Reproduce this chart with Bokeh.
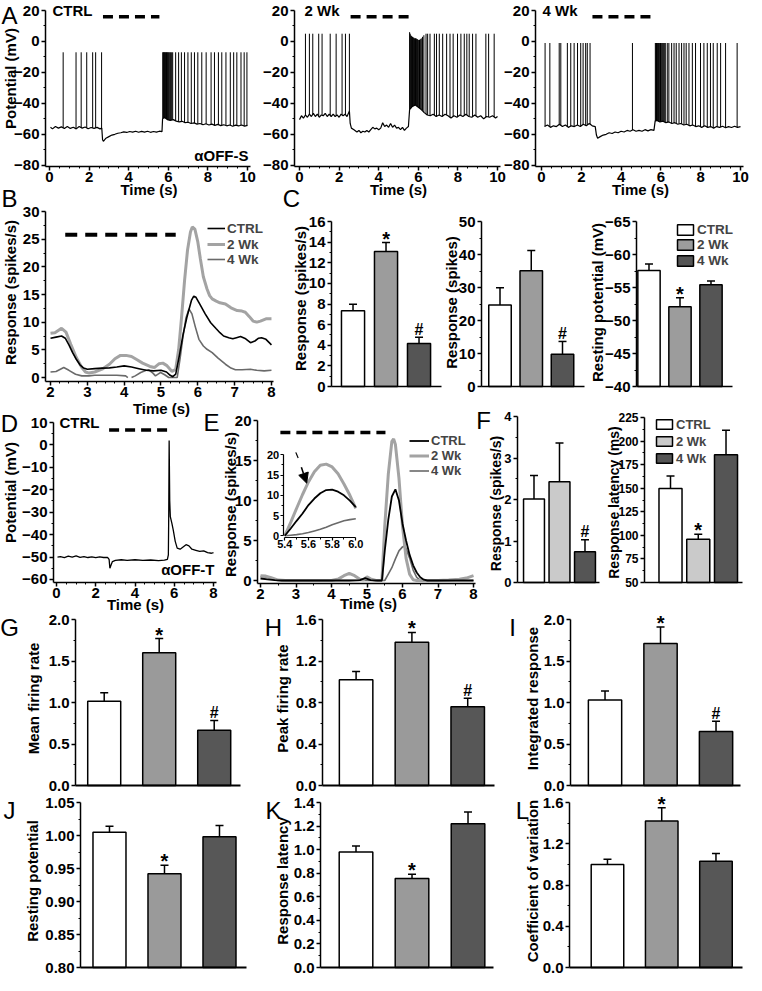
import numpy as np
from bokeh.plotting import figure
from bokeh.layouts import row, column
from bokeh.models import (Range1d, FixedTicker, Label, Legend, LegendItem, Whisker, TeeHead,
                          ColumnDataSource, LinearAxis, Arrow, NormalHead, PrintfTickFormatter)
from bokeh.core.properties import value
from bokeh.embed import file_html
from bokeh.resources import INLINE

FONT = "Liberation Sans"
NAN = float("nan")

# ============================ DATA ============================
groups = ["CTRL", "2 Wk", "4 Wk"]
bar_x = [1, 2, 3]

# ---- A: membrane potential recordings (alpha OFF-S) ----
a1_spikes = [0.69, 1.34, 1.60, 1.88, 2.18, 2.33, 2.63,
             5.72, 5.745, 5.77, 5.795, 5.82, 5.85, 5.88, 5.91, 5.94, 5.97, 6.00, 6.04, 6.08, 6.12, 6.17, 6.22,
             6.37, 6.52, 6.66, 6.82, 6.99, 7.16, 7.32, 7.49, 7.69, 7.91, 8.16, 8.33, 8.53, 8.70, 8.91,
             9.13, 9.30, 9.46, 9.67, 9.83, 9.97]
a1_peak = -7
a1_base = [(0.05, -55.5), (0.15, -56.5), (0.30, -55.0), (0.45, -56.0), (0.60, -55.2), (0.75, -56.3), (0.90, -55.0),
           (1.05, -56.2), (1.20, -55.4), (1.35, -56.5), (1.50, -55.0), (1.65, -56.0), (1.80, -55.3), (1.95, -56.4),
           (2.10, -55.6), (2.25, -56.2), (2.40, -55.5), (2.55, -56.5), (2.64, -56.0), (2.68, -63.5), (2.72, -64.5),
           (2.85, -62.5), (3.00, -61.5), (3.15, -60.5), (3.30, -60.0), (3.45, -59.3), (3.60, -59.0), (3.75, -58.4),
           (3.90, -58.8), (4.05, -58.2), (4.20, -58.6), (4.35, -58.0), (4.50, -58.7), (4.65, -58.1), (4.80, -58.6),
           (4.95, -58.0), (5.10, -58.7), (5.25, -58.2), (5.40, -58.6), (5.55, -58.0), (5.68, -58.3), (5.71, -50.0),
           (5.80, -49.0), (5.95, -50.5), (6.10, -51.0), (6.25, -50.5), (6.40, -51.5), (6.55, -52.0), (6.70, -51.6),
           (6.85, -52.5), (7.00, -52.2), (7.15, -53.0), (7.30, -52.6), (7.45, -53.4), (7.60, -53.0), (7.75, -53.8),
           (7.90, -53.2), (8.05, -54.0), (8.20, -53.4), (8.35, -54.2), (8.50, -53.6), (8.65, -54.4), (8.80, -53.8),
           (8.95, -54.5), (9.10, -54.0), (9.25, -54.8), (9.40, -54.1), (9.55, -54.6), (9.70, -54.0), (9.85, -54.7),
           (10.00, -54.2)]

a2_spikes = [0.30, 0.50, 0.67, 0.97, 1.14, 1.55, 1.85, 2.15, 2.32, 2.52,
             6.39, 6.47, 6.59, 6.81, 6.92, 7.06, 7.23, 7.43, 7.60, 7.76, 7.98, 8.15, 8.32, 8.45, 8.57,
             8.74, 8.91, 9.41, 9.55, 9.83]
a2_peak = 5
a2_burst = [5.56, 5.59, 5.62, 5.65, 5.68, 5.71, 5.74, 5.77, 5.80, 5.83, 5.86, 5.89, 5.92, 5.95, 5.98,
            6.02, 6.06, 6.10, 6.15, 6.21, 6.28]
a2_burst_peak = [6, 5, 4, 3.5, 3, 3, 2.5, 2.5, 2, 2, 2, 2, 1.5, 1.5, 1, 1, 1, 1.5, 2, 3, 4]
a2_base = [(0.00, -50.5), (0.10, -48.0), (0.20, -49.5), (0.30, -47.5), (0.40, -49.0), (0.50, -47.0), (0.60, -48.5),
           (0.70, -46.5), (0.80, -48.5), (0.90, -47.0), (1.00, -49.0), (1.10, -47.5), (1.20, -48.0), (1.30, -46.5),
           (1.40, -48.5), (1.50, -47.0), (1.60, -48.5), (1.70, -47.0), (1.80, -48.5), (1.90, -47.5), (2.00, -49.0),
           (2.10, -47.0), (2.20, -48.0), (2.30, -47.0), (2.40, -48.5), (2.52, -45.0), (2.56, -53.0), (2.62, -56.0),
           (2.75, -57.0), (2.90, -58.5), (3.00, -57.5), (3.10, -59.0), (3.20, -58.0), (3.30, -58.5), (3.40, -57.5),
           (3.50, -58.5), (3.60, -57.0), (3.70, -55.5), (3.80, -56.5), (3.90, -56.0), (4.00, -57.0), (4.10, -56.0),
           (4.20, -52.5), (4.30, -55.0), (4.40, -54.0), (4.50, -55.5), (4.60, -53.0), (4.70, -55.5), (4.80, -54.0),
           (4.90, -56.0), (5.00, -55.5), (5.10, -57.0), (5.20, -55.5), (5.30, -57.5), (5.40, -56.0), (5.50, -55.0),
           (5.56, -44.0), (5.70, -42.0), (5.85, -41.0), (6.00, -42.5), (6.15, -44.0), (6.30, -46.0), (6.45, -47.5),
           (6.60, -48.0), (6.75, -47.0), (6.90, -48.5), (7.05, -47.5), (7.20, -48.5), (7.35, -47.0), (7.50, -48.0),
           (7.65, -49.5), (7.80, -48.0), (7.95, -49.0), (8.10, -47.5), (8.25, -48.5), (8.40, -47.0), (8.55, -48.5),
           (8.70, -49.0), (8.85, -47.5), (9.00, -49.0), (9.15, -48.0), (9.30, -50.0), (9.45, -48.5), (9.60, -49.0),
           (9.75, -48.0), (9.90, -49.5), (10.00, -48.5)]

a3_spikes = [0.18, 0.42, 0.89, 0.97, 1.30, 1.47, 1.64, 1.81, 1.97, 2.09, 2.22, 2.30, 2.44, 4.57,
             5.72, 5.75, 5.78, 5.81, 5.84, 5.87, 5.90, 5.94, 5.98, 6.02, 6.07, 6.12, 6.17, 6.22,
             6.32, 6.40, 6.54, 6.66, 6.77, 6.91, 7.04, 7.16, 7.27, 7.41, 7.58, 7.74, 7.99, 8.16, 8.33,
             8.49, 8.63, 8.83, 9.00, 9.25, 9.83]
a3_peak = -1
a3_base = [(0.15, -55.0), (0.30, -54.0), (0.45, -55.5), (0.60, -54.5), (0.75, -55.0), (0.90, -53.5), (1.05, -55.0),
           (1.20, -54.0), (1.35, -55.5), (1.50, -54.5), (1.65, -55.0), (1.80, -54.0), (1.95, -55.0), (2.10, -53.5),
           (2.25, -54.5), (2.40, -53.0), (2.55, -54.5), (2.70, -55.0), (2.76, -60.5), (2.82, -62.5), (2.95, -61.5),
           (3.10, -60.5), (3.25, -60.0), (3.40, -59.0), (3.55, -59.5), (3.70, -58.5), (3.85, -59.0), (4.00, -58.0),
           (4.15, -58.5), (4.30, -57.5), (4.45, -58.0), (4.60, -57.0), (4.75, -58.0), (4.90, -57.5), (5.05, -58.0),
           (5.20, -57.0), (5.35, -57.8), (5.50, -57.0), (5.65, -57.5), (5.71, -51.5), (5.80, -51.0), (5.95, -52.0),
           (6.10, -51.5), (6.25, -52.5), (6.40, -52.0), (6.55, -53.0), (6.70, -52.5), (6.85, -53.5), (7.00, -53.0),
           (7.15, -54.0), (7.30, -53.5), (7.45, -54.5), (7.60, -54.0), (7.75, -55.0), (7.90, -54.5), (8.05, -55.5),
           (8.20, -54.5), (8.35, -55.5), (8.50, -55.0), (8.65, -56.0), (8.80, -55.0), (8.95, -55.5), (9.10, -54.8),
           (9.25, -55.8), (9.40, -55.0), (9.55, -55.6), (9.70, -54.8), (9.85, -55.5), (10.00, -55.0)]
a_stim = [(2.70, 5.55), (2.58, 5.56), (2.56, 5.48)]   # stimulus (s)

# ---- B: PSTH (spikes/s) ----
b_ctrl = [(2.0, 7.1), (2.15, 7.3), (2.3, 7.5), (2.4, 7.1), (2.5, 5.9), (2.6, 4.5), (2.7, 3.3), (2.8, 2.3), (2.9, 1.7),
          (3.0, 1.5), (3.2, 1.6), (3.4, 1.7), (3.6, 1.75), (3.8, 1.9), (4.0, 2.1), (4.2, 1.9), (4.4, 1.6), (4.6, 1.3),
          (4.8, 1.2), (5.0, 1.3), (5.15, 1.0), (5.25, 0.4), (5.32, 0.15), (5.40, 0.6), (5.5, 4.0), (5.6, 7.8),
          (5.7, 10.8), (5.76, 12.3), (5.83, 14.0), (5.89, 14.7), (5.95, 14.5), (6.05, 13.3), (6.2, 11.5), (6.35, 9.9),
          (6.5, 8.8), (6.6, 8.1), (6.7, 7.5), (6.84, 7.2), (6.95, 7.0), (7.05, 7.2), (7.16, 7.4), (7.3, 7.0),
          (7.43, 6.3), (7.55, 6.6), (7.65, 7.1), (7.73, 7.2), (7.85, 6.9), (8.0, 5.9)]
b_2wk = [(2.0, 8.0), (2.12, 8.1), (2.3, 8.9), (2.42, 8.2), (2.55, 6.0), (2.7, 3.6), (2.85, 1.8), (2.95, 1.0),
         (3.05, 0.8), (3.2, 1.0), (3.4, 1.5), (3.6, 2.4), (3.75, 3.4), (3.9, 4.0), (4.05, 4.0), (4.2, 3.8),
         (4.35, 3.2), (4.5, 2.6), (4.7, 2.0), (4.82, 1.8), (4.95, 2.5), (5.05, 2.6), (5.15, 2.2), (5.3, 1.1),
         (5.4, 1.5), (5.48, 5.1), (5.56, 11.0), (5.64, 17.5), (5.72, 23.0), (5.8, 26.3), (5.85, 27.2), (5.92, 26.8),
         (6.0, 24.5), (6.07, 21.4), (6.15, 18.2), (6.25, 16.0), (6.32, 14.8), (6.39, 14.2), (6.5, 13.8), (6.6, 13.5),
         (6.75, 13.3), (6.9, 12.6), (7.07, 12.1), (7.2, 12.0), (7.29, 11.8), (7.4, 11.0), (7.5, 10.2), (7.6, 10.0),
         (7.7, 10.2), (7.85, 10.6), (8.0, 10.6)]
b_4wk = [(2.0, 1.0), (2.15, 1.1), (2.36, 1.8), (2.5, 1.3), (2.68, 0.6), (2.85, 0.3), (3.04, 0.3), (3.2, 0.4),
         (3.4, 0.4), (3.6, 0.4), (3.8, 0.4), (4.04, 0.3), (4.1, 0.0), (4.15, NAN), (4.2, 0.0), (4.3, 0.3),
         (4.45, 0.9), (4.6, 1.3), (4.67, 1.4), (4.78, 0.8), (4.85, 0.3), (4.92, 0.6), (4.99, 0.9), (5.1, 0.5),
         (5.21, 0.0), (5.3, 0.0), (5.44, 0.0), (5.52, 3.5), (5.6, 7.5), (5.68, 10.8), (5.76, 12.4), (5.84, 11.5),
         (5.93, 9.2), (6.03, 6.9), (6.15, 5.7), (6.25, 5.1), (6.39, 4.5), (6.55, 3.5), (6.75, 2.4), (6.9, 1.7),
         (7.02, 1.4), (7.2, 1.4), (7.43, 1.5), (7.6, 1.3), (7.8, 1.2), (8.0, 1.3)]
b_stim = (2.4, 5.4)

# ---- C: summary bars ----
c1_mean = [7.35, 13.08, 4.18];   c1_err = [0.62, 0.88, 0.60];  c1_mark = ["", "*", "#"]
c2_mean = [24.7, 35.1, 9.8];     c2_err = [5.2, 6.1, 3.85];    c2_mark = ["", "", "#"]
c3_mean = [-57.56, -52.1, -55.4]; c3_err = [1.0, 1.35, 0.6];   c3_mark = ["", "*", ""]

# ---- D: alpha OFF-T recording ----
d_trace = [(0.05, -50.0), (0.2, -49.8), (0.4, -50.2), (0.6, -49.6), (0.8, -50.0), (1.0, -49.5), (1.2, -50.1),
           (1.4, -49.8), (1.6, -50.2), (1.8, -49.9), (2.0, -50.3), (2.2, -49.9), (2.4, -50.2), (2.6, -50.1),
           (2.68, -51.0), (2.72, -55.0), (2.78, -53.5), (2.85, -52.0), (3.0, -51.5), (3.3, -51.2), (3.6, -51.5),
           (4.0, -51.2), (4.4, -51.5), (4.8, -51.3), (5.2, -51.6), (5.5, -51.4), (5.65, -51.0), (5.70, -49.0),
           (5.72, -30.0), (5.74, 2.0), (5.77, -25.0), (5.80, -32.0), (5.88, -35.0), (5.95, -38.0), (6.05, -43.0),
           (6.15, -46.0), (6.3, -46.5), (6.45, -45.5), (6.6, -44.5), (6.75, -45.0), (6.9, -46.5), (7.1, -47.0),
           (7.3, -47.5), (7.5, -47.2), (7.7, -48.0), (7.9, -48.3), (8.0, -48.0)]
d_stim = (2.68, 5.65)

# ---- E: PSTH alpha OFF-T ----
e_ctrl = [(2.0, 0.25), (2.2, 0.15), (2.4, 0.05), (2.6, 0.0), (3.0, 0.0), (3.5, 0.0), (4.0, 0.0), (4.5, 0.0),
          (4.8, 0.05), (4.95, 0.3), (5.1, 0.05), (5.3, 0.0), (5.42, 0.0), (5.5, 3.7), (5.6, 7.6), (5.7, 10.5),
          (5.8, 11.4), (5.9, 10.0), (6.0, 7.1), (6.1, 5.0), (6.2, 3.2), (6.3, 1.9), (6.4, 1.0), (6.5, 0.4),
          (6.6, 0.1), (6.7, 0.0), (7.5, 0.0), (8.0, 0.0)]
e_2wk = [(2.0, 0.6), (2.15, 0.55), (2.3, 0.35), (2.5, 0.05), (2.7, 0.0), (3.5, 0.0), (4.0, 0.0), (4.2, 0.2),
         (4.35, 0.6), (4.5, 0.9), (4.65, 0.6), (4.8, 0.15), (4.9, 0.1), (5.0, 0.45), (5.1, 0.2), (5.25, 0.0),
         (5.42, 0.0), (5.5, 6.8), (5.6, 13.3), (5.7, 17.4), (5.75, 17.7), (5.8, 17.0), (5.9, 12.8), (6.0, 6.8),
         (6.1, 2.8), (6.2, 0.8), (6.3, 0.1), (6.4, 0.0), (7.0, 0.0), (7.3, 0.05), (7.6, 0.15), (7.8, 0.3), (8.0, 0.6)]
e_4wk = [(2.0, 0.5), (2.2, 0.4), (2.4, 0.1), (2.6, 0.0), (5.5, 0.0), (5.6, 0.8), (5.7, 1.6), (5.8, 2.7),
         (5.9, 3.7), (6.0, 4.2), (6.05, 4.3), (6.1, 4.0), (6.2, 2.8), (6.3, 1.3), (6.4, 0.4), (6.5, 0.05),
         (6.6, 0.0), (8.0, 0.0)]
e_stim = (2.56, 5.52)
# inset (5.4 - 6.0 s)
ins_t = [5.40, 5.45, 5.50, 5.55, 5.60, 5.65, 5.70, 5.75, 5.80, 5.85, 5.90, 5.95, 6.00]
ins_ctrl = [0.0, 1.8, 3.7, 5.5, 7.6, 9.2, 10.5, 11.3, 11.4, 10.9, 10.0, 8.7, 7.1]
ins_2wk = [0.0, 3.3, 6.8, 10.2, 13.3, 15.8, 17.4, 17.7, 17.0, 15.3, 12.8, 10.0, 6.8]
ins_4wk = [0.0, 0.15, 0.3, 0.5, 0.8, 1.2, 1.6, 2.1, 2.7, 3.2, 3.7, 4.0, 4.2]
ins_arrow = (5.54, 16.9, 5.585, 13.0)
ins_tick = (5.493, 20.6, 5.513, 19.2)

# ---- F ----
f1_mean = [2.01, 2.43, 0.74];    f1_err = [0.57, 0.93, 0.29];  f1_mark = ["", "", "#"]
f2_mean = [149.7, 96.0, 185.4];  f2_err = [13.2, 5.3, 26.0];   f2_mark = ["", "*", ""]

# ---- G-L: normalised ----
g_mean = [1.016, 1.60, 0.667];  g_err = [0.10, 0.17, 0.115];  g_mark = ["", "*", "#"]
h_mean = [1.02, 1.38, 0.76];    h_err = [0.08, 0.095, 0.08];  h_mark = ["", "*", "#"]
i_mean = [1.03, 1.71, 0.65];    i_err = [0.11, 0.20, 0.125];  i_mark = ["", "*", "#"]
j_mean = [1.005, 0.942, 0.998]; j_err = [0.009, 0.013, 0.017]; j_mark = ["", "*", ""]
k_mean = [0.98, 0.755, 1.22];   k_err = [0.05, 0.037, 0.10];  k_mark = ["", "*", ""]
l_mean = [1.0, 1.42, 1.03];     l_err = [0.05, 0.13, 0.075];  l_mark = ["", "*", ""]

# ============================ HELPERS ============================
FR = {}


def lin(p0, v0, p1, v1, lo, hi):
    s = (v1 - v0) / (p1 - p0)
    return v0 + (lo - p0) * s, v0 + (hi - p0) * s


def mkfig(name, box, frame, xr, yr):
    """Whole canvas is the plot frame; axes are pinned with fixed_location and bounds."""
    bx0, by0, bx1, by1 = box
    fx0, fy0, fx1, fy1 = frame
    X0, X1 = lin(fx0, xr[0], fx1, xr[1], bx0, bx1)
    Y0, Y1 = lin(fy1, yr[0], fy0, yr[1], by1, by0)
    p = figure(width=bx1 - bx0, height=by1 - by0, title=None,
               x_range=Range1d(X0, X1), y_range=Range1d(Y0, Y1),
               output_backend="svg", toolbar_location=None, min_border=0)
    p.outline_line_color = None
    p.xgrid.visible = False
    p.ygrid.visible = False
    p.background_fill_color = None
    p.border_fill_color = None
    p.xaxis[0].fixed_location = yr[0]
    p.xaxis[0].bounds = (min(xr), max(xr))
    p.yaxis[0].fixed_location = xr[0]
    p.yaxis[0].bounds = (min(yr), max(yr))
    FR[name] = (p, box, frame)
    return p


def ax_common(ax, size="15px", out=4, mout=2, tin=0, mtin=0, standoff=2, width=1.5):
    ax.axis_line_width = width
    ax.axis_line_color = "black"
    ax.major_tick_line_width = width
    ax.major_tick_line_color = "black"
    ax.minor_tick_line_width = 1
    ax.minor_tick_line_color = "black"
    ax.major_tick_out = out
    ax.major_tick_in = tin
    ax.minor_tick_out = mout
    ax.minor_tick_in = mtin
    ax.major_label_standoff = standoff
    ax.major_label_text_font = FONT
    ax.major_label_text_font_style = "bold"
    ax.major_label_text_font_size = size
    ax.major_label_text_color = "black"


def style_y(p, ticks, minor, fmt=None, size="15px"):
    ax = p.yaxis[0]
    ax.ticker = FixedTicker(ticks=ticks, minor_ticks=minor)
    if fmt:
        ax.formatter = PrintfTickFormatter(format=fmt)
    ax_common(ax, size=size, out=4, mout=2, standoff=2)


def style_x(p, ticks, minor, size="15px"):
    ax = p.xaxis[0]
    ax.ticker = FixedTicker(ticks=ticks, minor_ticks=minor)
    ax_common(ax, size=size, out=4, mout=2, standoff=1)


def style_bar_x(p, width=1.5):
    ax = p.xaxis[0]
    ax.ticker = FixedTicker(ticks=[])
    ax.major_label_text_font_size = "0px"
    ax.axis_line_width = width
    ax.axis_line_color = "black"
    ax.major_tick_line_color = None
    ax.minor_tick_line_color = None


def txt(name, text, x, y, size="15px", style="bold", angle=0, align="center"):
    p, box, frame = FR[name]
    bx0, by0, bx1, by1 = box
    p.add_layout(Label(x=x - bx0, y=by1 - y, x_units="screen", y_units="screen", text=text,
                       text_font=FONT, text_font_style=style, text_font_size=size, angle=angle,
                       text_align=align, text_baseline="middle", text_color="black"))


def letter(name, text, x, y):
    txt(name, text, x, y, size="24px", style="normal")


def unz(pairs):
    return (np.array([a for a, b in pairs], dtype=float), np.array([b for a, b in pairs], dtype=float))


def spikes(p, times, peak, base):
    bt, bv = unz(base)
    feet = np.interp(times, bt, bv)
    peaks = peak if isinstance(peak, list) else [peak] * len(times)
    p.segment(x0=times, y0=feet, x1=times, y1=peaks, line_color="black", line_width=1)


def stim_bar(p, se, yv, dash="10 6", lw=3.5):
    p.line(x=list(se), y=[yv, yv], line_color="black", line_width=lw, line_dash=dash)


def bars(p, means, errs, colors, marks, width, bottom=0.0, flip=False, star="20px", hsh="16px",
         star_off=-4, hash_off=-8, lw=1.5):
    lo = [m - e for m, e in zip(means, errs)]
    hi = [m + e for m, e in zip(means, errs)]
    my = lo if flip else hi
    sizes = [star if m == "*" else hsh for m in marks]
    offs = [star_off if m == "*" else hash_off for m in marks]
    src = ColumnDataSource(dict(x=bar_x, top=means, color=colors, lo=lo, hi=hi, my=my,
                                mark=marks, msize=sizes, moff=offs))
    r = p.vbar(x="x", top="top", bottom=bottom, width=width, fill_color="color",
               line_color="black", line_width=lw, source=src)
    p.add_layout(Whisker(source=src, base="x", upper="hi", lower="lo", line_width=1.5, line_color="black",
                         upper_head=TeeHead(size=8, line_width=1.5, line_color="black"),
                         lower_head=TeeHead(size=8, line_width=1.5, line_color="black")))
    p.text(x="x", y="my", text="mark", source=src, text_font=value(FONT), text_font_style="bold",
           text_font_size="msize", text_align="center", text_baseline="middle", y_offset="moff",
           text_color="black")
    return r


def legend(name, items, x_left, first_center, pitch, size_px, glyph_w, glyph_h=None):
    """One single-row Legend per entry, so that every row centre is placed exactly."""
    p, box, frame = FR[name]
    bx0, by0, bx1, by1 = box
    th = 22
    m = 1.15 * size_px
    gh = int(round(m)) if glyph_h is None else glyph_h
    for i, it in enumerate(items):
        c = first_center + i * pitch
        bottom = c - m / 2.0 + th
        lg = Legend(items=[it], location=(int(round(x_left - bx0)), int(round(by1 - bottom))),
                    orientation="vertical", padding=0, margin=0, spacing=0,
                    label_standoff=2, glyph_width=int(glyph_w), glyph_height=int(gh), label_height=th,
                    label_text_font=FONT, label_text_font_style="bold",
                    label_text_font_size="%gpx" % size_px,
                    border_line_color=None, background_fill_alpha=0)
        p.add_layout(lg)


C_COL = ["white", "#9c9c9c", "#555555"]
F_COL = ["white", "#cacaca", "#555555"]
N_COL = ["white", "#9a9a9a", "#575757"]

# ============================ ROW A ============================
A_boxes = [(8, 8, 270, 212), (262, 8, 520, 212), (510, 8, 760, 212)]
A_frames = [(53, 18, 258, 174), (302, 18, 508, 174), (543, 18, 751, 174)]
A_xr = [(-0.202, 10.15), (-0.2525, 10.15), (-0.3015, 10.15)]
A_data = [(a1_spikes, a1_peak, a1_base), (a2_spikes, a2_peak, a2_base), (a3_spikes, a3_peak, a3_base)]
A_tags = ["CTRL", "2 Wk", "4 Wk"]
A_tagx = [60, 312, 550]
for k in range(3):
    nm = "A%d" % k
    p = mkfig(nm, A_boxes[k], A_frames[k], A_xr[k], (-80.8, 20))
    sp, pk, base = A_data[k]
    bt, bv = unz(base)
    spikes(p, sp, pk, base)
    if k == 1:
        spikes(p, a2_burst, a2_burst_peak, base)
    p.line(bt, bv, line_color="black", line_width=1.2)
    stim_bar(p, a_stim[k], 16.0)
    style_y(p, [-80, -60, -40, -20, 0, 20], [-70, -50, -30, -10, 10])
    style_x(p, [0, 2, 4, 6, 8, 10], [0.5 * i for i in range(21)])
    txt(nm, A_tags[k], A_tagx[k], 18, align="left")
    txt(nm, "Time (s)", (A_frames[k][0] + A_frames[k][2]) / 2 + 1, 197)
txt("A0", "Potential (mV)", 18, 86, angle=np.pi / 2)
txt("A0", "\u03b1OFF-S", 256, 163, align="right")
letter("A0", "A", 17, 23)

# ============================ ROW B / C ============================
pB = mkfig("B", (8, 190, 292, 430), (53, 219, 281, 389), (1.864, 8.055), (-0.72, 30))
bx, by = unz(b_4wk)
r4 = pB.line(bx, by, line_color="#6a6a6a", line_width=1.6)
bx, by = unz(b_2wk)
r2 = pB.line(bx, by, line_color="#a3a3a3", line_width=3)
bx, by = unz(b_ctrl)
r1 = pB.line(bx, by, line_color="black", line_width=1.6)
stim_bar(pB, b_stim, 25.8, dash="12 8", lw=4)
style_y(pB, [0, 5, 10, 15, 20, 25, 30], [2.5 + 5 * i for i in range(6)])
style_x(pB, [2, 3, 4, 5, 6, 7, 8], [2 + 0.25 * i for i in range(25)])
legend("B", [LegendItem(label="CTRL", renderers=[r1]), LegendItem(label="2 Wk", renderers=[r2]),
             LegendItem(label="4 Wk", renderers=[r4])], 215, 233, 15.5, 13.5, 18)
txt("B", "Response (spikes/s)", 18, 300, angle=np.pi / 2)
txt("B", "Time (s)", 169, 416)
letter("B", "B", 17, 206)

pC1 = mkfig("C1", (285, 190, 456, 430), (339, 229, 449, 394), (0.348, 3.681), (0, 16))
bars(pC1, c1_mean, c1_err, C_COL, c1_mark, 0.7)
style_y(pC1, list(range(0, 17, 2)), list(range(1, 16, 2)))
style_bar_x(pC1)
txt("C1", "Response (spikes/s)", 308, 306, angle=np.pi / 2)
letter("C1", "C", 299, 206)

pC2 = mkfig("C2", (447, 190, 600, 430), (489, 229, 592, 394), (0.408, 3.704), (0, 50))
bars(pC2, c2_mean, c2_err, C_COL, c2_mark, 0.72)
style_y(pC2, [0, 10, 20, 30, 40, 50], [5, 15, 25, 35, 45])
style_bar_x(pC2)
txt("C2", "Response (spikes)", 459, 310, angle=np.pi / 2)

pC3 = mkfig("C3", (594, 190, 760, 430), (644, 229, 740, 394), (0.597, 3.694), (-40, -65))
rc3 = bars(pC3, c3_mean, c3_err, C_COL, c3_mark, 0.72, bottom=-40, flip=True)
style_y(pC3, [-65, -60, -55, -50, -45, -40], [-62.5, -57.5, -52.5, -47.5, -42.5])
style_bar_x(pC3)
legend("C3", [LegendItem(label=g, renderers=[rc3], index=i) for i, g in enumerate(groups)],
       683, 233.5, 15.5, 13.5, 20, glyph_h=13)
txt("C3", "Resting potential (mV)", 605, 310, angle=np.pi / 2)

# ============================ ROW D / E / F ============================
pD = mkfig("D", (8, 414, 232, 624), (61, 430, 224, 590), (-0.153, 8.153), (-61.34, 10))
dx, dy = unz(d_trace)
pD.line(dx, dy, line_color="black", line_width=1.3)
stim_bar(pD, d_stim, 6.7)
style_y(pD, [-60, -50, -40, -30, -20, -10, 0, 10], [-55, -45, -35, -25, -15, -5, 5])
style_x(pD, [0, 2, 4, 6, 8], [0.5 * i for i in range(17)])
txt("D", "CTRL", 67, 430, align="left")
txt("D", "\u03b1OFF-T", 222, 577, align="right")
txt("D", "Potential (mV)", 18, 500, angle=np.pi / 2)
txt("D", "Time (s)", 143, 612)
letter("D", "D", 17, 431)

E_box = (208, 414, 490, 624)
pE = mkfig("E", E_box, (265, 428, 483, 591), (1.9155, 8.056), (-0.375, 20))
ex, ey = unz(e_4wk)
e4 = pE.line(ex, ey, line_color="#6a6a6a", line_width=1.6)
ex, ey = unz(e_2wk)
e2 = pE.line(ex, ey, line_color="#a3a3a3", line_width=3)
ex, ey = unz(e_ctrl)
e1 = pE.line(ex, ey, line_color="black", line_width=1.8)
stim_bar(pE, e_stim, 18.5)
style_y(pE, [0, 5, 10, 15, 20], [2.5, 7.5, 12.5, 17.5])
style_x(pE, [2, 3, 4, 5, 6, 7, 8], [2 + 0.5 * i for i in range(13)])
legend("E", [LegendItem(label="CTRL", renderers=[e1]), LegendItem(label="2 Wk", renderers=[e2]),
             LegendItem(label="4 Wk", renderers=[e4])], 417, 444, 15, 13, 20)
# inset: scales anchored at x 5.4 -> px 292.3, 6.0 -> px 363.3 ; y 0 -> px 543.3, 20 -> px 462.3
ix0, ix1 = lin(292.3, 5.4, 363.3, 6.0, E_box[0], E_box[2])
iy0, iy1 = lin(543.3, 0.0, 462.3, 20.0, E_box[3], E_box[1])
pE.extra_x_ranges = {"ix": Range1d(ix0, ix1)}
pE.extra_y_ranges = {"iy": Range1d(iy0, iy1)}
pE.line(ins_t, ins_4wk, line_color="#6a6a6a", line_width=1.6, x_range_name="ix", y_range_name="iy")
pE.line(ins_t, ins_2wk, line_color="#a3a3a3", line_width=3, x_range_name="ix", y_range_name="iy")
pE.line(ins_t, ins_ctrl, line_color="black", line_width=1.8, x_range_name="ix", y_range_name="iy")
iy_loc = lin(292.3, 5.4, 363.3, 6.0, 290.7, 290.7)[0]
ix_loc = lin(543.3, 0.0, 462.3, 20.0, 544.5, 544.5)[0]
iy_ax = LinearAxis(x_range_name="ix", y_range_name="iy", fixed_location=iy_loc, bounds=(0, 20),
                   ticker=FixedTicker(ticks=[0, 5, 10, 15, 20], minor_ticks=[2.5, 7.5, 12.5, 17.5]))
ax_common(iy_ax, size="11px", out=3, mout=2, standoff=1, width=1.2)
pE.add_layout(iy_ax, "left")
ix_ax = LinearAxis(x_range_name="ix", y_range_name="iy", fixed_location=ix_loc, bounds=(5.4, 6.0),
                   ticker=FixedTicker(ticks=[5.4, 5.6, 5.8, 6.0], minor_ticks=[5.5, 5.7, 5.9]),
                   formatter=PrintfTickFormatter(format="%.1f"))
ax_common(ix_ax, size="11px", out=3, mout=2, standoff=0, width=1.2)
pE.add_layout(ix_ax, "below")
pE.add_layout(Arrow(x_start=ins_arrow[0], y_start=ins_arrow[1], x_end=ins_arrow[2], y_end=ins_arrow[3],
                    x_range_name="ix", y_range_name="iy", line_width=1.5, line_color="black",
                    end=NormalHead(size=10, fill_color="black", line_color="black")))
pE.segment(x0=[ins_tick[0]], y0=[ins_tick[1]], x1=[ins_tick[2]], y1=[ins_tick[3]], line_color="black",
           line_width=1.2, x_range_name="ix", y_range_name="iy")
txt("E", "Response (spikes/s)", 238, 512, angle=np.pi / 2)
txt("E", "Time (s)", 376, 611)
letter("E", "E", 219, 430)

pF1 = mkfig("F1", (478, 414, 614, 624), (525, 424, 607, 590), (0.353, 3.569), (0, 4))
bars(pF1, f1_mean, f1_err, F_COL, f1_mark, 0.82)
style_y(pF1, [0, 1, 2, 3, 4], [0.5, 1.5, 2.5, 3.5], size="13px")
style_bar_x(pF1)
txt("F1", "Response (spikes/s)", 503, 511, angle=np.pi / 2, size="14px")
letter("F1", "F", 491, 428)

pF2 = mkfig("F2", (606, 414, 760, 624), (652, 425, 750, 590), (0.063, 3.594), (50, 225))
rf2 = bars(pF2, f2_mean, f2_err, F_COL, f2_mark, 0.83, bottom=50)
style_y(pF2, [50, 75, 100, 125, 150, 175, 200, 225], [62.5, 87.5, 112.5, 137.5, 162.5, 187.5, 212.5],
        size="12px")
style_bar_x(pF2)
legend("F2", [LegendItem(label=g, renderers=[rf2], index=i) for i, g in enumerate(groups)],
       662, 428, 17, 13, 20, glyph_h=12)
txt("F2", "Response latency (ms)", 621, 510, angle=np.pi / 2, size="14px")

# ============================ ROW G / H / I, J / K / L ============================
NB = [
    ("G", (8, 610, 264, 806), (83, 627, 248, 793), (0.478, 3.478), (0, 2), g_mean, g_err, g_mark,
     [0, 0.5, 1.0, 1.5, 2.0], [0.25, 0.75, 1.25, 1.75], "%.1f", "Mean firing rate", 41, 17),
    ("H", (256, 610, 514, 806), (330, 627, 502, 793), (0.398, 3.48), (0, 1.6), h_mean, h_err, h_mark,
     [0, 0.4, 0.8, 1.2, 1.6], [0.2, 0.6, 1.0, 1.4], "%.1f", "Peak firing rate", 290, 281),
    ("I", (506, 610, 760, 806), (578, 627, 748, 793), (0.378, 3.441), (0, 2), i_mean, i_err, i_mark,
     [0, 0.5, 1.0, 1.5, 2.0], [0.25, 0.75, 1.25, 1.75], "%.1f", "Integrated response", 540, 520),
    ("J", (8, 796, 262, 983), (88, 810, 254, 975), (0.473, 3.491), (0.8, 1.05), j_mean, j_err, j_mark,
     [0.8, 0.85, 0.9, 0.95, 1.0, 1.05], [0.825, 0.875, 0.925, 0.975, 1.025], "%.2f", "Resting potential", 40, 17),
    ("K", (254, 796, 512, 983), (328, 810, 501, 975), (0.366, 3.455), (0, 1.4), k_mean, k_err, k_mark,
     [0, 0.2, 0.4, 0.6, 0.8, 1.0, 1.2, 1.4], [0.1, 0.3, 0.5, 0.7, 0.9, 1.1, 1.3], "%.1f", "Response latency", 290, 281),
    ("L", (504, 796, 760, 983), (577, 810, 750, 975), (0.3, 3.489), (0, 1.6), l_mean, l_err, l_mark,
     [0, 0.4, 0.8, 1.2, 1.6], [0.2, 0.6, 1.0, 1.4], "%.1f", "Coefficient of variation", 540, 530),
]
for (nm, box, frame, xr, yr, mn, er, mk, tk, mtk, fmt, lab, labx, letx) in NB:
    p = mkfig(nm, box, frame, xr, yr)
    bars(p, mn, er, N_COL, mk, 0.6, bottom=yr[0])
    style_y(p, tk, mtk, fmt=fmt, size="15px")
    style_bar_x(p, width=2)
    cy = (frame[1] + frame[3]) / 2 - 4
    txt(nm, lab, labx, cy, angle=np.pi / 2)
    letter(nm, nm, letx, frame[1] + 8)

# ============================ LAYOUT ============================


def mkrow(names, top_margin):
    kids = []
    prev = 8
    for nm in names:
        p, box, frame = FR[nm]
        ml = box[0] - prev
        if ml != 0:
            p.margin = (0, 0, 0, ml)
        prev = box[2]
        kids.append(p)
    r = row(*kids)
    if top_margin:
        r.margin = (top_margin, 0, 0, 0)
    return r


layout = column(
    mkrow(["A0", "A1", "A2"], 0),
    mkrow(["B", "C1", "C2", "C3"], 190 - 212),
    mkrow(["D", "E", "F1", "F2"], 414 - 430),
    mkrow(["G", "H", "I"], 610 - 624),
    mkrow(["J", "K", "L"], 796 - 806),
)

open("out.html", "w").write(file_html(layout, INLINE))
